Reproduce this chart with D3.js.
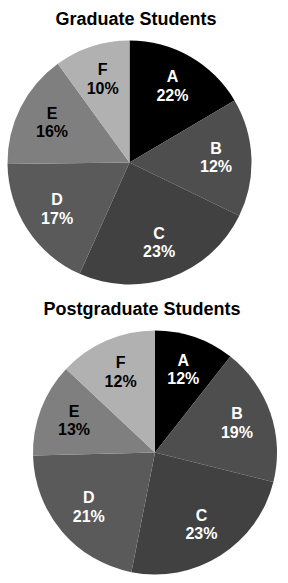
<!DOCTYPE html>
<html>
<head>
<meta charset="utf-8">
<script src="https://cdn.jsdelivr.net/npm/d3@7"></script>
<style>
  body { margin: 0; background: #fff; }
  text { font-family: "Liberation Sans", Arial, sans-serif; font-weight: bold; }
</style>
</head>
<body>
<div id="chart"></div>
<script>
// categories and values
var categories = ["A", "B", "C", "D", "E", "F"];
// slice sizes as drawn (the wedges are not exactly the printed percentages)
var gradSlices = [16.5, 15.7, 24.5, 18.1, 15.2, 10.0];
var gradLabels = [22, 12, 23, 17, 16, 10];
var postSlices = [10.6, 18.3, 24.2, 21.5, 12.4, 13.0];
var postLabels = [12, 19, 23, 21, 13, 12];

var width = 288, height = 583;

var svg = d3.select("#chart")
  .append("svg")
  .attr("width", width)
  .attr("height", height);

var color = d3.scaleOrdinal()
  .domain(categories)
  .range(["#000000", "#4e4e4e", "#414141", "#5a5a5a", "#7f7f7f", "#b1b1b1"]);

var textColor = d3.scaleOrdinal()
  .domain(categories)
  .range(["#fff", "#fff", "#fff", "#fff", "#000", "#000"]);

function drawPie(title, slices, labels, cx, cy, r, titleX, titleY) {
  svg.append("text")
    .attr("x", titleX)
    .attr("y", titleY)
    .attr("text-anchor", "middle")
    .style("font-size", "18px")
    .attr("fill", "#000")
    .text(title);

  var data = categories.map(function (c, i) {
    return { cat: c, value: slices[i], label: labels[i] };
  });

  var pie = d3.pie()
    .sort(null)
    .value(function (d) { return d.value; });

  var arc = d3.arc().innerRadius(0).outerRadius(r);
  var labelArc = d3.arc().innerRadius(r * 0.71).outerRadius(r * 0.71);

  var g = svg.append("g")
    .attr("transform", "translate(" + cx + "," + cy + ")");

  g.selectAll("path")
    .data(pie(data))
    .enter()
    .append("path")
    .attr("d", arc)
    .attr("fill", function (d) { return color(d.data.cat); });

  var lbl = g.selectAll("text.lbl")
    .data(pie(data))
    .enter()
    .append("text")
    .attr("class", "lbl")
    .attr("text-anchor", "middle")
    .style("font-size", "16px")
    .attr("fill", function (d) { return textColor(d.data.cat); })
    .attr("transform", function (d) {
      var c = labelArc.centroid(d);
      return "translate(" + c[0] + "," + c[1] + ")";
    });

  lbl.append("tspan")
    .attr("x", 0)
    .attr("y", -5)
    .text(function (d) { return d.data.cat; });
  lbl.append("tspan")
    .attr("x", 0)
    .attr("y", 13.5)
    .text(function (d) { return d.data.label + "%"; });
}

drawPie("Graduate Students", gradSlices, gradLabels, 129.5, 162.5, 122, 136, 25);
drawPie("Postgraduate Students", postSlices, postLabels, 155, 452.5, 122, 142, 315);
</script>
</body>
</html>
